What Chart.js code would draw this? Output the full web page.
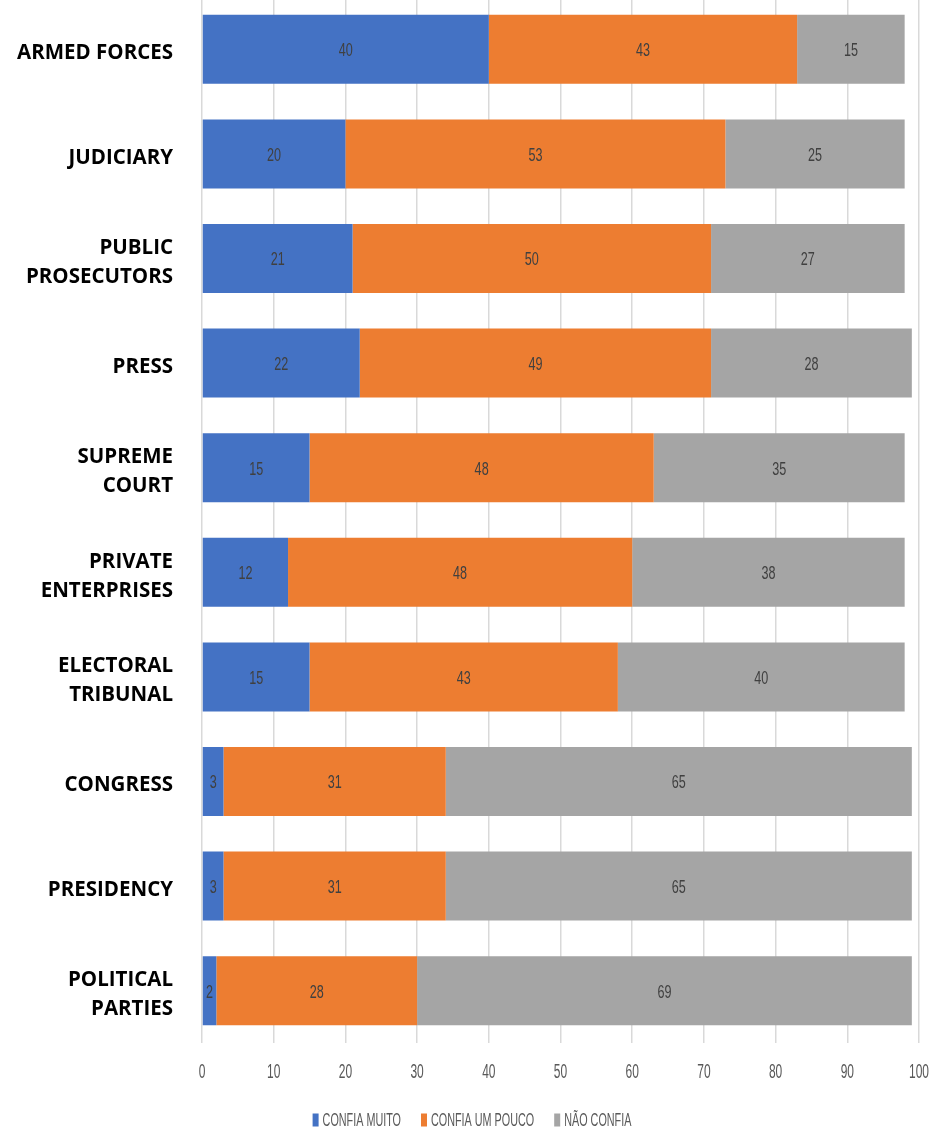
<!DOCTYPE html>
<html>
<head>
<meta charset="utf-8">
<script src="https://cdn.jsdelivr.net/npm/chart.js@4.4.0/dist/chart.umd.min.js"></script>
<style>
  html, body { margin: 0; padding: 0; background: #fff; }
  #wrap { position: relative; width: 944px; height: 1130px; overflow: hidden; }
  #c { position: absolute; left: 0; top: -3px; }
</style>
</head>
<body>
<div id="wrap"><canvas id="c" width="944" height="1133"></canvas></div>
<script>
const categories = [
  "ARMED FORCES", "JUDICIARY", ["PUBLIC", "PROSECUTORS"], "PRESS",
  ["SUPREME", "COURT"], ["PRIVATE", "ENTERPRISES"], ["ELECTORAL", "TRIBUNAL"],
  "CONGRESS", "PRESIDENCY", ["POLITICAL", "PARTIES"]
];
const confiaMuito = [40, 20, 21, 22, 15, 12, 15, 3, 3, 2];
const confiaUmPouco = [43, 53, 50, 49, 48, 48, 43, 31, 31, 28];
const naoConfia = [15, 25, 27, 28, 35, 38, 40, 65, 65, 69];
const xTicks = [0, 10, 20, 30, 40, 50, 60, 70, 80, 90, 100];

// the original uses a very condensed light font, so squeeze a normal one
function narrowText(ctx, text, x, y, size, sx, color, align) {
  ctx.save();
  ctx.font = size + "px 'Liberation Sans', Arial, sans-serif";
  ctx.fillStyle = color;
  ctx.textAlign = align || "center";
  ctx.textBaseline = "middle";
  ctx.translate(x, y);
  ctx.scale(sx, 1);
  ctx.fillText(text, 0, 0);
  const w = ctx.measureText(text).width * sx;
  ctx.restore();
  return w;
}

const narrowLabels = {
  id: "narrowLabels",
  afterDatasetsDraw(chart) {
    const ctx = chart.ctx;
    // values inside the bars
    chart.data.datasets.forEach((ds, i) => {
      chart.getDatasetMeta(i).data.forEach((bar, j) => {
        const p = bar.getProps(["x", "y", "base"], true);
        narrowText(ctx, String(ds.data[j]), (p.x + p.base) / 2, p.y + 2, 18, 0.7, "#404040");
      });
    });
    // x axis tick labels
    const xs = chart.scales.x;
    xTicks.forEach(v => {
      narrowText(ctx, String(v), xs.getPixelForValue(v), 1075, 20, 0.6, "#595959");
    });
    // legend
    const items = chart.data.datasets.map(ds => {
      ctx.save();
      ctx.font = "18px 'Liberation Sans', Arial, sans-serif";
      const w = ctx.measureText(ds.label).width * 0.6;
      ctx.restore();
      return { label: ds.label, color: ds.backgroundColor, w: w };
    });
    const box = 6, gap = 4, sep = 20;
    let total = 0;
    items.forEach((it, k) => { total += box + gap + it.w + (k < items.length - 1 ? sep : 0); });
    let x = chart.width / 2 - total / 2;
    const y = 1123;
    items.forEach(it => {
      ctx.fillStyle = it.color;
      ctx.fillRect(x, y - 6.5, box, 13);
      x += box + gap;
      narrowText(ctx, it.label, x, y + 1, 18, 0.6, "#595959", "left");
      x += it.w + sep;
    });
  }
};

new Chart(document.getElementById("c"), {
  type: "bar",
  data: {
    labels: categories,
    datasets: [
      { label: "CONFIA MUITO", data: confiaMuito, backgroundColor: "#4472C4" },
      { label: "CONFIA UM POUCO", data: confiaUmPouco, backgroundColor: "#ED7D31" },
      { label: "NÃO CONFIA", data: naoConfia, backgroundColor: "#A5A5A5" }
    ]
  },
  options: {
    indexAxis: "y",
    responsive: false,
    animation: false,
    layout: { padding: { top: 0, right: 25, left: 0, bottom: 0 } },
    datasets: { bar: { categoryPercentage: 0.66, barPercentage: 1 } },
    scales: {
      x: {
        stacked: true,
        min: 0,
        max: 100,
        afterBuildTicks: s => { s.ticks = xTicks.map(v => ({ value: v })); },
        grid: { color: "#D9D9D9", lineWidth: 1.5, drawTicks: false },
        border: { display: false },
        ticks: { display: false },
        afterFit: s => {
          s.height = 87;
          s.paddingLeft = 0;
          s.paddingRight = 0;
        }
      },
      y: {
        stacked: true,
        grid: { display: false, drawTicks: false },
        border: { display: false },
        ticks: {
          padding: 29,
          labelOffset: 4,
          color: "#000",
          font: { family: "'Open Sans', sans-serif", size: 20.5, weight: "bold", lineHeight: 1.41 }
        },
        afterFit: s => {
          s.width = 202;
          s.paddingTop = 0;
          s.paddingBottom = 0;
        }
      }
    },
    plugins: {
      tooltip: { enabled: false },
      legend: { display: false }
    }
  },
  plugins: [narrowLabels]
});
</script>
</body>
</html>
